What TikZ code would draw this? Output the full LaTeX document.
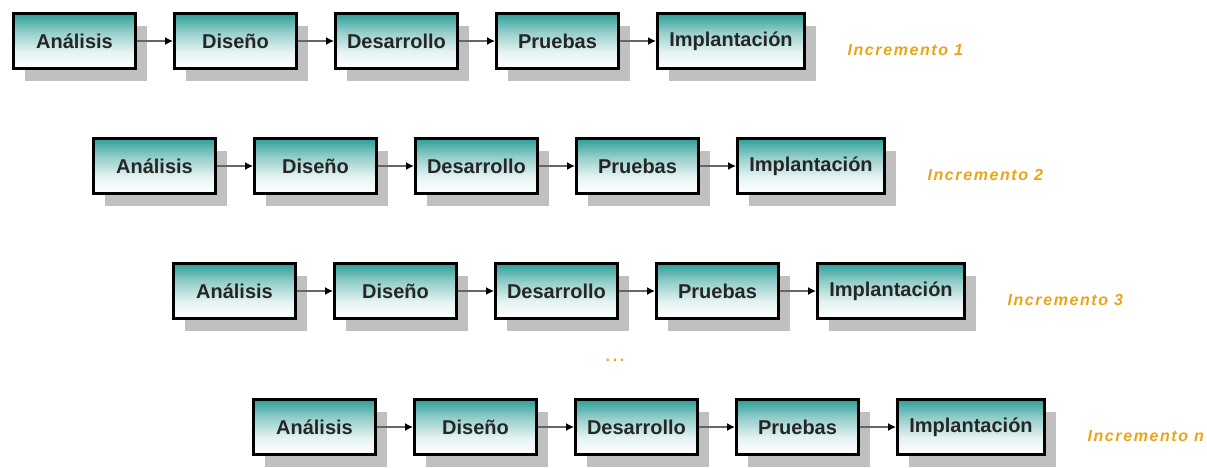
\documentclass[tikz,border=0pt]{standalone}
\usepackage{fontspec}
\setmainfont{Liberation Sans}
\newfontfamily\incfont[LetterSpace=10]{Liberation Sans}
\usetikzlibrary{arrows.meta,positioning,shadows}

\definecolor{tealtop}{RGB}{45,158,152}
\definecolor{sombra}{RGB}{192,192,192}
\definecolor{naranja}{RGB}{234,164,28}
\pgfdeclareverticalshading{fasefondo}{100bp}{color(0bp)=(white); color(25bp)=(white);
  color(40bp)=(tealtop!12!white); color(58bp)=(tealtop!50!white); color(75bp)=(tealtop); color(100bp)=(tealtop)}

\tikzset{
  fase/.style={draw=black,line width=3pt,shading=fasefondo,
    minimum width=122pt,minimum height=55pt,text=black!85,
    font=\fontsize{20}{24}\selectfont\bfseries,
    drop shadow={shadow xshift=11pt,shadow yshift=-12pt,fill=sombra,opacity=1}},
  flecha/.style={-{Latex[length=8pt,width=8pt,black]},line width=1.4pt,draw=black!60},
  incremento/.style={text=naranja,font=\incfont\fontsize{16}{18}\selectfont\bfseries\itshape}
}

\begin{document}
\begin{tikzpicture}[x=1pt,y=-1pt]
    \useasboundingbox (0,0) rectangle (1207,467);

    % one row per increment
    \foreach \r/\x/\y/\n in {1/74.5/41/1, 2/154.5/166/2, 3/234.5/291/3, 4/314.5/427/n}{
        \node[fase](ana\r) at (\x,\y){Análisis};
        \node[fase,right=36pt of ana\r](dis\r){Diseño};
        \node[fase,right=36pt of dis\r](des\r){Desarrollo};
        \node[fase,right=36pt of des\r](pru\r){Pruebas};
        \node[fase,right=36pt of pru\r,minimum width=147pt](imp\r){Implantación};
        \draw[flecha](ana\r)--(dis\r);
        \draw[flecha](dis\r)--(des\r);
        \draw[flecha](des\r)--(pru\r);
        \draw[flecha](pru\r)--(imp\r);
        \node[incremento,right=38pt of imp\r,yshift=-9pt](inc\r){Incremento \n};
    }

    \node[text=naranja,font=\fontsize{16}{18}\selectfont\bfseries](puntos) at (615,360){.\,.\,.};
\end{tikzpicture}
\end{document}
